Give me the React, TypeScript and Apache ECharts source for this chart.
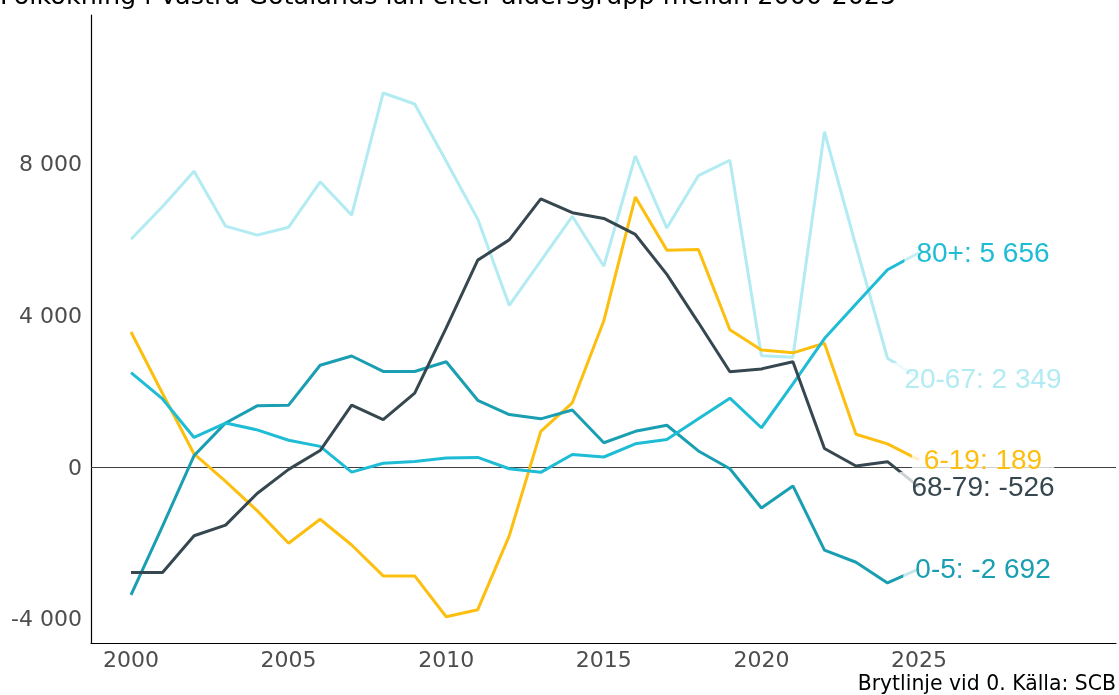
import React, { useEffect, useRef } from "react";
import * as echarts from "echarts";

const years = [2000, 2001, 2002, 2003, 2004, 2005, 2006, 2007, 2008, 2009, 2010, 2011, 2012, 2013, 2014, 2015, 2016, 2017, 2018, 2019, 2020, 2021, 2022, 2023, 2024, 2025];

const age0_5 = [-3374, -1560, 300, 1161, 1615, 1633, 2685, 2930, 2522, 2522, 2777, 1761, 1384, 1271, 1506, 640, 942, 1102, 424, -47, -1083, -499, -2194, -2514, -3060, -2692];
const age6_19 = [3565, 1940, 345, -381, -1152, -2014, -1379, -2059, -2875, -2875, -3954, -3766, -1817, 942, 1695, 3860, 7127, 5725, 5743, 3625, 3088, 3013, 3267, 866, 612, 189];
const age20_67 = [6014, 6875, 7810, 6358, 6122, 6331, 7528, 6649, 9873, 9583, 8069, 6544, 4265, 5442, 6619, 5301, 8210, 6308, 7692, 8097, 2938, 2900, 8850, 5834, 2872, 2349];
const age68_79 = [-2785, -2785, -1814, -1533, -698, -63, 435, 1633, 1252, 1950, 3672, 5461, 5997, 7080, 6713, 6562, 6139, 5084, 3813, 2514, 2589, 2777, 490, 28, 141, -526];
const age80 = [2494, 1796, 780, 1161, 980, 707, 544, -136, 100, 145, 235, 254, -47, -141, 330, 264, 612, 725, 1271, 1817, 1036, 2194, 3390, 4303, 5207, 5656];

const seriesNames = ["20-67", "6-19", "0-5", "80+", "68-79"];
const seriesValues = [age20_67, age6_19, age0_5, age80, age68_79];
const seriesColors = ["#b2ebf2", "#fdbf0f", "#1a9fb2", "#1fbcd5", "#37474f"];

const yTicks = [-4000, 0, 4000, 8000];
const xTicks = [2000, 2005, 2010, 2015, 2020, 2025];

const titleText = "Folkökning i Västra Götalands län efter åldersgrupp mellan 2000-2025";
const captionText = "Brytlinje vid 0. Källa: SCB";

const fmt = (v: number) => {
  const s = String(Math.abs(Math.round(v))).replace(/\B(?=(\d{3})+(?!\d))/g, " ");
  return (v < 0 ? "-" : "") + s;
};

export default function App() {
  const ref = useRef<HTMLDivElement>(null);
  useEffect(() => {
    if (!ref.current) return;
    const chart = echarts.init(ref.current, undefined, { renderer: "svg" });
    const series: any[] = seriesNames.map((name, i) => ({
      name,
      type: "line",
      data: years.map((y, j) => [y, seriesValues[i][j]]),
      showSymbol: false,
      symbol: "none",
      lineStyle: { color: seriesColors[i], width: 3 },
      itemStyle: { color: seriesColors[i] },
      z: 2 + i,
      endLabel: {
        show: true,
        formatter: (p: any) => `${name}: ${fmt(p.value[1])}`,
        color: seriesColors[i],
        fontSize: 28,
        fontFamily: "Liberation Sans",
        align: "center",
        verticalAlign: "middle",
        distance: 0,
        offset: [64, 0],
        backgroundColor: "rgba(255,255,255,0.75)",
        padding: [1, 12],
      },
    }));
    series[0].markLine = {
      silent: true,
      symbol: "none",
      label: { show: false },
      lineStyle: { color: "#404040", width: 1.2, type: "solid" },
      data: [{ yAxis: 0 }],
      z: 1,
    };
    chart.setOption({
      animation: false,
      title: [
        {
          text: titleText,
          left: 0,
          top: -18,
          padding: 0,
          textStyle: { fontSize: 25.5, fontFamily: "DejaVu Sans", fontWeight: "normal", color: "#000" },
        },
        {
          text: captionText,
          right: 3,
          top: 673,
          padding: 0,
          textStyle: { fontSize: 20.4, fontFamily: "DejaVu Sans", fontWeight: "normal", color: "#000" },
        },
      ],
      grid: { left: 91, right: 3, top: 15, bottom: 52, containLabel: false },
      xAxis: {
        type: "value",
        min: 1998.73,
        max: 2031.25,
        splitLine: { show: false },
        axisLine: { show: true, onZero: false, lineStyle: { color: "#000", width: 1.2 } },
        axisTick: { show: false, customValues: xTicks },
        axisLabel: {
          customValues: xTicks,
          color: "#4d4d4d",
          fontSize: 22,
          fontFamily: "DejaVu Sans",
          margin: 5,
          formatter: (v: number) => String(v),
        },
      },
      yAxis: {
        type: "value",
        min: -4646,
        max: 11932,
        splitLine: { show: false },
        axisLine: { show: true, onZero: false, lineStyle: { color: "#000", width: 1.2 } },
        axisTick: { show: false, customValues: yTicks },
        axisLabel: {
          customValues: yTicks,
          color: "#4d4d4d",
          fontSize: 22,
          fontFamily: "DejaVu Sans",
          margin: 9,
          formatter: (v: number) => fmt(v),
        },
      },
      series,
    });
    return () => chart.dispose();
  }, []);
  return <div ref={ref} style={{ position: "fixed", left: 0, top: 0, width: "1119px", height: "695px" }} />;
}
